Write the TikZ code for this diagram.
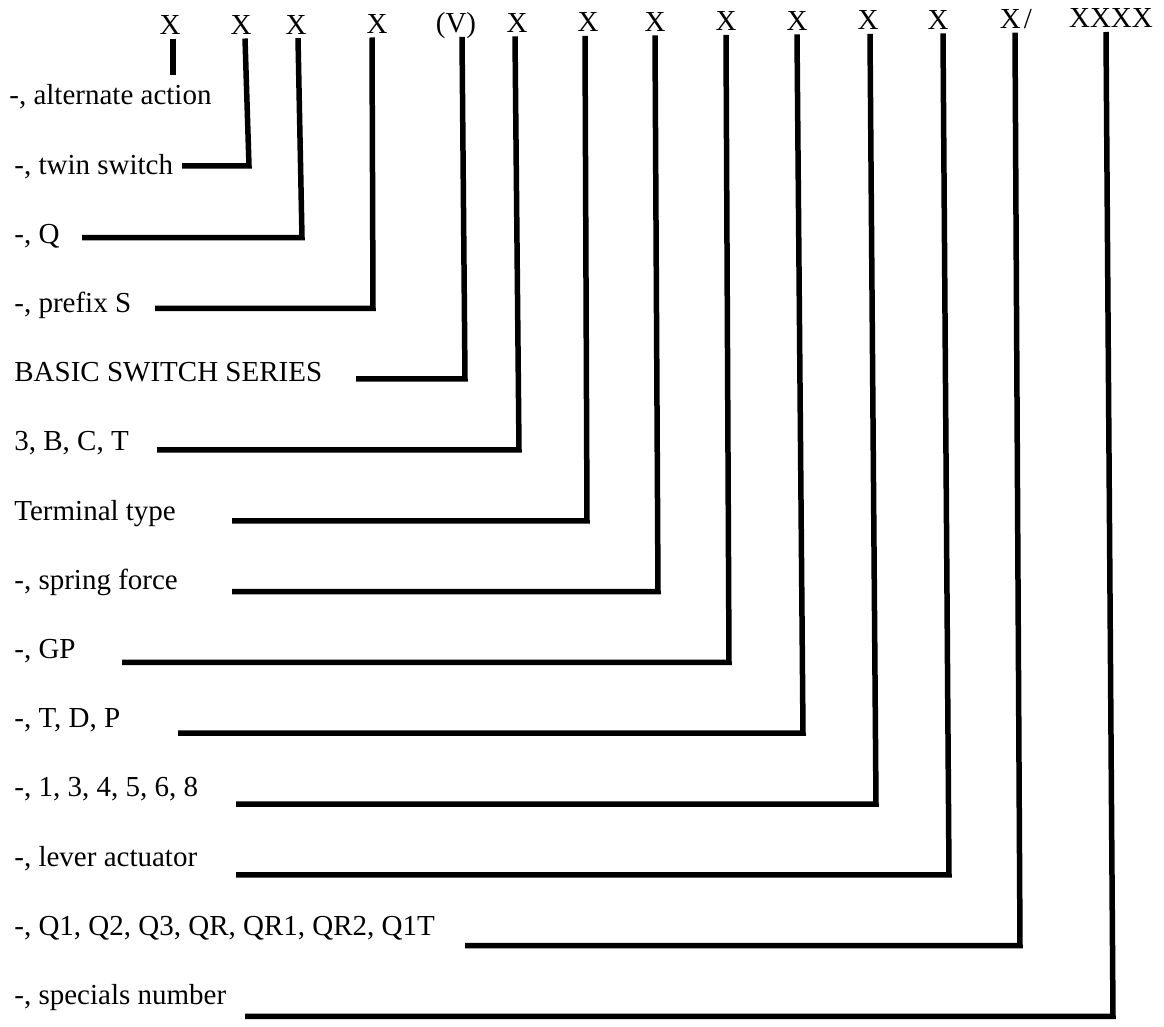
\documentclass[tikz,border=0pt]{standalone}
\usepackage{fontspec}
\setmainfont{Liberation Serif}
\begin{document}
\begin{tikzpicture}[x=0.5pt,y=-0.5pt,
  lbl/.style={anchor=base west, inner sep=0pt, font=\fontsize{14.5}{17}\selectfont},
  code/.style={anchor=base, inner sep=0pt, font=\fontsize{14.5}{17}\selectfont},
  lead/.style={line width=2.75pt, line join=miter, line cap=butt}]
\useasboundingbox (0,0) rectangle (1164,1027);
% top code letters
\node[code] (t1) at (170,35) {X};
\node[code] (t2) at (241,34.5) {X};
\node[code] (t3) at (296,34.1) {X};
\node[code] (t4) at (377,33.5) {X};
\node[code] (t5) at (456,32.9) {(V)};
\node[code] (t6) at (517,32.4) {X};
\node[code] (t7) at (588,31.9) {X};
\node[code] (t8) at (655,31.4) {X};
\node[code] (t9) at (726,30.9) {X};
\node[code] (t10) at (797,30.3) {X};
\node[code] (t11) at (868,29.8) {X};
\node[code] (t12) at (938,29.3) {X};
\node[code, anchor=base west] (t13) at (999.5,28.7) {X\kern1.5pt/};
\node[code] (t14) at (1111,28) {XXXX};
% labels
\node[lbl] (l0) at (9,105) {-, alternate action};
\node[lbl] (l1) at (14,174.2) {-, twin switch};
\node[lbl] (l2) at (14,243.4) {-, Q};
\node[lbl] (l3) at (14,312.6) {-, prefix S};
\node[lbl] (l4) at (14,381.8) {BASIC SWITCH SERIES};
\node[lbl] (l5) at (14,451) {3, B, C, T};
\node[lbl] (l6) at (14,520.2) {Terminal type};
\node[lbl] (l7) at (14,589.4) {-, spring force};
\node[lbl] (l8) at (14,658.6) {-, GP};
\node[lbl] (l9) at (14,727.8) {-, T, D, P};
\node[lbl] (l10) at (14,797) {-, 1, 3, 4, 5, 6, 8};
\node[lbl] (l11) at (14,866.2) {-, lever actuator};
\node[lbl] (l12) at (14,935.4) {-, Q1, Q2, Q3, QR, QR1, QR2, Q1T};
\node[lbl] (l13) at (14,1004.6) {-, specials number};
% leader coordinates
\coordinate (a0) at (173,39);   \coordinate (e0) at (173,75);
\coordinate (a1) at (245,38.5); \coordinate (b1) at (249,166);    \coordinate (c1) at (182,166);
\coordinate (a2) at (298,38.1); \coordinate (b2) at (302,237.6);  \coordinate (c2) at (82,237.6);
\coordinate (a3) at (372,37.5); \coordinate (b3) at (373,308.4);  \coordinate (c3) at (155,308.4);
\coordinate (a4) at (462,36.9); \coordinate (b4) at (465,379);    \coordinate (c4) at (356,379);
\coordinate (a5) at (515,36.4); \coordinate (b5) at (519,450);    \coordinate (c5) at (157,450);
\coordinate (a6) at (585,35.9); \coordinate (b6) at (587,520.8);  \coordinate (c6) at (232,520.8);
\coordinate (a7) at (655,35.4); \coordinate (b7) at (658,591.6);  \coordinate (c7) at (232,591.6);
\coordinate (a8) at (726,34.9); \coordinate (b8) at (729,662.4);  \coordinate (c8) at (122,662.4);
\coordinate (a9) at (797,34.3); \coordinate (b9) at (803,733.2);  \coordinate (c9) at (178,733.2);
\coordinate (a10) at (870,33.8); \coordinate (b10) at (876,804);  \coordinate (c10) at (236,804);
\coordinate (a11) at (943,33.3); \coordinate (b11) at (949,874.8); \coordinate (c11) at (236,874.8);
\coordinate (a12) at (1015,32.7); \coordinate (b12) at (1020,945.6); \coordinate (c12) at (465,945.6);
\coordinate (a13) at (1106,32); \coordinate (b13) at (1113,1016.4); \coordinate (c13) at (245,1016.4);
% leaders
\draw[lead] (a0) -- (e0);
\draw[lead] (a1) -- (b1) -- (c1);
\draw[lead] (a2) -- (b2) -- (c2);
\draw[lead] (a3) -- (b3) -- (c3);
\draw[lead] (a4) -- (b4) -- (c4);
\draw[lead] (a5) -- (b5) -- (c5);
\draw[lead] (a6) -- (b6) -- (c6);
\draw[lead] (a7) -- (b7) -- (c7);
\draw[lead] (a8) -- (b8) -- (c8);
\draw[lead] (a9) -- (b9) -- (c9);
\draw[lead] (a10) -- (b10) -- (c10);
\draw[lead] (a11) -- (b11) -- (c11);
\draw[lead] (a12) -- (b12) -- (c12);
\draw[lead] (a13) -- (b13) -- (c13);
\end{tikzpicture}
\end{document}
